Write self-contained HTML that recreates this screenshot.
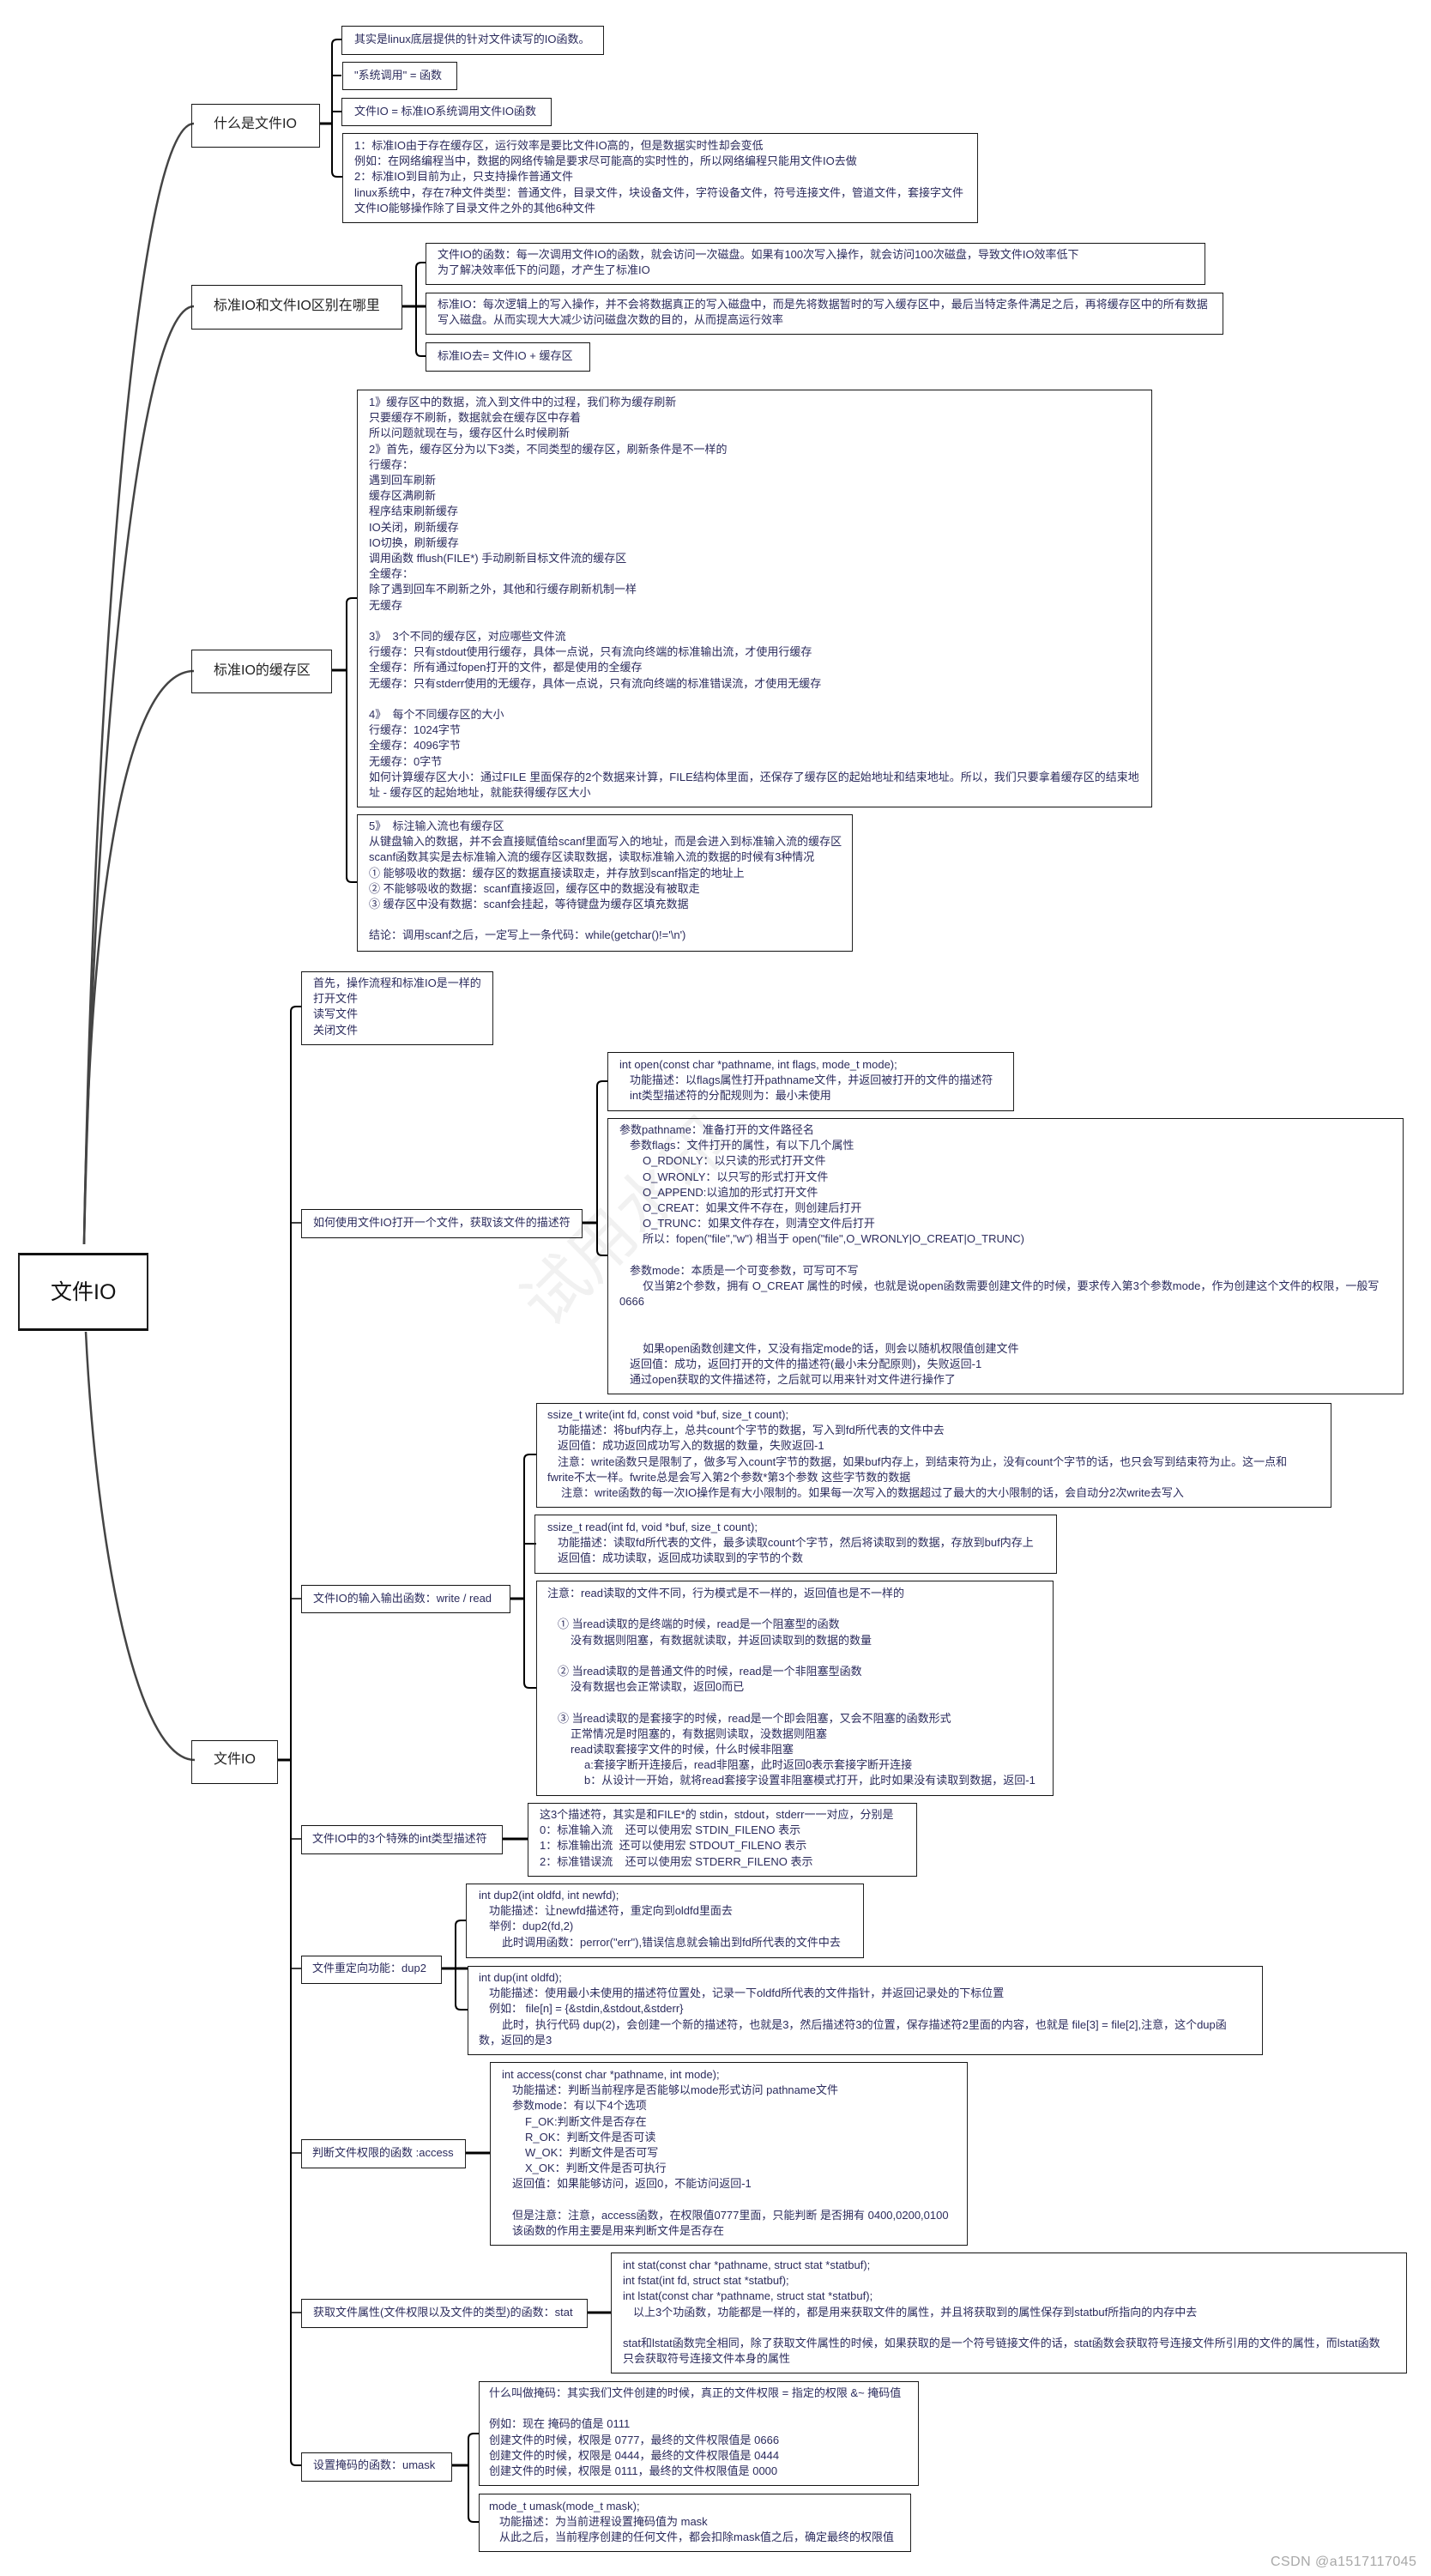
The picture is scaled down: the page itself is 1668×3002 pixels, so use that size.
<!DOCTYPE html>
<html lang="zh"><head><meta charset="utf-8"><title>文件IO</title>
<style>
html,body{margin:0;padding:0;background:#fff}
#p{position:relative;width:1668px;height:3002px;overflow:hidden;background:#fff;font-family:"Liberation Sans","Noto Sans CJK SC",sans-serif}
svg{position:absolute;left:0;top:0}
.b{position:absolute;box-sizing:border-box;border:1px solid #222;border-top:1.5px solid #111;border-bottom:1.5px solid #111}
.t{position:absolute;margin:0;font:13px/18.2px "Liberation Sans","Noto Sans CJK SC",sans-serif;color:#2b2b5c;white-space:pre}
.n{position:absolute;font-size:16px;line-height:22px;color:#222;white-space:pre}
.r{position:absolute;font-size:25px;line-height:34px;color:#111;white-space:pre}
i{display:inline-block}
.a{width:12px}.c{width:16px}.d{width:27px}.e{width:43px}
</style></head><body><div id="p">
<svg width="1668" height="3002" viewBox="0 0 1668 3002">
<text x="0" y="0" transform="translate(640 1550) rotate(-45)" font-family="'Liberation Sans','Noto Sans CJK SC',sans-serif" font-size="76" fill="#f1f1f1">试用水印</text>
<g fill="none" stroke="#444" stroke-width="2.5">
<path d="M98 1450C110 797 158 144 226 144"/>
<path d="M98 1450C110 903 158 357 226 357"/>
<path d="M98 1450C104 1020 150 782 226 782"/>
<path d="M100 1552C112 1800 158 2051 227 2051"/>
</g>
<g fill="none" stroke="#000" stroke-width="2">
<path d="M399 46H393Q387 46 387 52V200Q387 206 393 206H399"/>
<path d="M387 88H398M387 130H398"/>
<path d="M373 144H387" stroke-width="3"/>
<path d="M496 306H491Q485 306 485 312V409Q485 415 491 415H496"/>
<path d="M469 357H496" stroke-width="3"/>
<path d="M417 697H410Q404 697 404 703V1022Q404 1028 410 1028H417"/>
<path d="M387 781H404" stroke-width="3"/>
<path d="M352 1173H345Q339 1173 339 1179V2867Q339 2873 345 2873H352"/>
<path d="M339 1425H352M339 1863H352M339 2143H352M339 2294H352M339 2509H352M339 2695H352" stroke-width="1.5"/>
<path d="M324 2051H339" stroke-width="3"/>
<path d="M709 1260H702Q696 1260 696 1266V1457Q696 1463 702 1463H709"/>
<path d="M679 1425H696" stroke-width="3"/>
<path d="M625 1695H617Q611 1695 611 1701V1961Q611 1967 617 1967H625"/>
<path d="M611 1799H625"/>
<path d="M595 1863H611" stroke-width="3"/>
<path d="M586 2143H616" stroke-width="3"/>
<path d="M544 2238H537Q531 2238 531 2244V2336Q531 2342 537 2342H545"/>
<path d="M515 2294H545" stroke-width="3"/>
<path d="M543 2509H572" stroke-width="3"/>
<path d="M685 2695H712" stroke-width="3"/>
<path d="M558 2836H552Q546 2836 546 2842V2933Q546 2939 552 2939H558"/>
<path d="M527 2873H546" stroke-width="3"/>
</g>
</svg>

<div class="b" style="left:21px;top:1460px;width:152px;height:91px;border-width:3px 2px"></div>
<div class="r" style="left:59px;top:1489px">文件IO</div>

<div class="b" style="left:223px;top:121px;width:150px;height:51px"></div>
<div class="n" style="left:249px;top:134px">什么是文件IO</div>
<div class="b" style="left:223px;top:332px;width:246px;height:52px"></div>
<div class="n" style="left:249px;top:346px">标准IO和文件IO区别在哪里</div>
<div class="b" style="left:223px;top:757px;width:164px;height:51px"></div>
<div class="n" style="left:249px;top:771px">标准IO的缓存区</div>
<div class="b" style="left:223px;top:2028px;width:101px;height:51px"></div>
<div class="n" style="left:249px;top:2040px">文件IO</div>

<div class="b" style="left:398px;top:30px;width:306px;height:34px"></div>
<pre class="t" style="left:413px;top:37px">其实是linux底层提供的针对文件读写的IO函数。</pre>
<div class="b" style="left:399px;top:72px;width:134px;height:33px"></div>
<pre class="t" style="left:413px;top:79px">"系统调用" = 函数</pre>
<div class="b" style="left:398px;top:114px;width:245px;height:33px"></div>
<pre class="t" style="left:413px;top:121px">文件IO = 标准IO系统调用文件IO函数</pre>
<div class="b" style="left:399px;top:155px;width:741px;height:105px"></div>
<pre class="t" style="left:413px;top:161px">1&#65306;标准IO由于存在缓存区&#65292;运行效率是要比文件IO高的&#65292;但是数据实时性却会变低
例如&#65306;在网络编程当中&#65292;数据的网络传输是要求尽可能高的实时性的&#65292;所以网络编程只能用文件IO去做
2&#65306;标准IO到目前为止&#65292;只支持操作普通文件
linux系统中&#65292;存在7种文件类型&#65306;普通文件&#65292;目录文件&#65292;块设备文件&#65292;字符设备文件&#65292;符号连接文件&#65292;管道文件&#65292;套接字文件
文件IO能够操作除了目录文件之外的其他6种文件</pre>

<div class="b" style="left:496px;top:283px;width:909px;height:49px"></div>
<pre class="t" style="left:510px;top:288px">文件IO的函数&#65306;每一次调用文件IO的函数&#65292;就会访问一次磁盘。如果有100次写入操作&#65292;就会访问100次磁盘&#65292;导致文件IO效率低下
为了解决效率低下的问题&#65292;才产生了标准IO</pre>
<div class="b" style="left:496px;top:341px;width:930px;height:49px"></div>
<pre class="t" style="left:510px;top:346px">标准IO&#65306;每次逻辑上的写入操作&#65292;并不会将数据真正的写入磁盘中&#65292;而是先将数据暂时的写入缓存区中&#65292;最后当特定条件满足之后&#65292;再将缓存区中的所有数据
写入磁盘。从而实现大大减少访问磁盘次数的目的&#65292;从而提高运行效率</pre>
<div class="b" style="left:496px;top:399px;width:192px;height:34px"></div>
<pre class="t" style="left:510px;top:406px">标准IO去= 文件IO + 缓存区</pre>

<div class="b" style="left:416px;top:454px;width:927px;height:487px"></div>
<pre class="t" style="left:430px;top:460px">1》缓存区中的数据&#65292;流入到文件中的过程&#65292;我们称为缓存刷新
只要缓存不刷新&#65292;数据就会在缓存区中存着
所以问题就现在与&#65292;缓存区什么时候刷新
2》首先&#65292;缓存区分为以下3类&#65292;不同类型的缓存区&#65292;刷新条件是不一样的
行缓存&#65306;
遇到回车刷新
缓存区满刷新
程序结束刷新缓存
IO关闭&#65292;刷新缓存
IO切换&#65292;刷新缓存
调用函数 fflush(FILE*) 手动刷新目标文件流的缓存区
全缓存&#65306;
除了遇到回车不刷新之外&#65292;其他和行缓存刷新机制一样
无缓存

3》  3个不同的缓存区&#65292;对应哪些文件流
行缓存&#65306;只有stdout使用行缓存&#65292;具体一点说&#65292;只有流向终端的标准输出流&#65292;才使用行缓存
全缓存&#65306;所有通过fopen打开的文件&#65292;都是使用的全缓存
无缓存&#65306;只有stderr使用的无缓存&#65292;具体一点说&#65292;只有流向终端的标准错误流&#65292;才使用无缓存

4》  每个不同缓存区的大小
行缓存&#65306;1024字节
全缓存&#65306;4096字节
无缓存&#65306;0字节
如何计算缓存区大小&#65306;通过FILE 里面保存的2个数据来计算&#65292;FILE结构体里面&#65292;还保存了缓存区的起始地址和结束地址。所以&#65292;我们只要拿着缓存区的结束地
址 - 缓存区的起始地址&#65292;就能获得缓存区大小</pre>
<div class="b" style="left:416px;top:949px;width:578px;height:160px"></div>
<pre class="t" style="left:430px;top:954px">5》  标注输入流也有缓存区
从键盘输入的数据&#65292;并不会直接赋值给scanf里面写入的地址&#65292;而是会进入到标准输入流的缓存区
scanf函数其实是去标准输入流的缓存区读取数据&#65292;读取标准输入流的数据的时候有3种情况
① 能够吸收的数据&#65306;缓存区的数据直接读取走&#65292;并存放到scanf指定的地址上
② 不能够吸收的数据&#65306;scanf直接返回&#65292;缓存区中的数据没有被取走
③ 缓存区中没有数据&#65306;scanf会挂起&#65292;等待键盘为缓存区填充数据

结论&#65306;调用scanf之后&#65292;一定写上一条代码&#65306;while(getchar()!='\n')</pre>

<div class="b" style="left:351px;top:1132px;width:224px;height:86px"></div>
<pre class="t" style="left:365px;top:1137px">首先&#65292;操作流程和标准IO是一样的
打开文件
读写文件
关闭文件</pre>

<div class="b" style="left:351px;top:1409px;width:328px;height:34px"></div>
<pre class="t" style="left:365px;top:1416px">如何使用文件IO打开一个文件&#65292;获取该文件的描述符</pre>
<div class="b" style="left:708px;top:1226px;width:474px;height:69px"></div>
<pre class="t" style="left:722px;top:1232px">int open(const char *pathname, int flags, mode_t mode);
<i class="a"></i>功能描述&#65306;以flags属性打开pathname文件&#65292;并返回被打开的文件的描述符
<i class="a"></i>int类型描述符的分配规则为&#65306;最小未使用</pre>
<div class="b" style="left:708px;top:1303px;width:928px;height:322px"></div>
<pre class="t" style="left:722px;top:1308px">参数pathname&#65306;准备打开的文件路径名
<i class="a"></i>参数flags&#65306;文件打开的属性&#65292;有以下几个属性
<i class="d"></i>O_RDONLY&#65306;以只读的形式打开文件
<i class="d"></i>O_WRONLY&#65306;以只写的形式打开文件
<i class="d"></i>O_APPEND:以追加的形式打开文件
<i class="d"></i>O_CREAT&#65306;如果文件不存在&#65292;则创建后打开
<i class="d"></i>O_TRUNC&#65306;如果文件存在&#65292;则清空文件后打开
<i class="d"></i>所以&#65306;fopen("file","w") 相当于 open("file",O_WRONLY|O_CREAT|O_TRUNC)

<i class="a"></i>参数mode&#65306;本质是一个可变参数&#65292;可写可不写
<i class="d"></i>仅当第2个参数&#65292;拥有 O_CREAT 属性的时候&#65292;也就是说open函数需要创建文件的时候&#65292;要求传入第3个参数mode&#65292;作为创建这个文件的权限&#65292;一般写
0666


<i class="d"></i>如果open函数创建文件&#65292;又没有指定mode的话&#65292;则会以随机权限值创建文件
<i class="a"></i>返回值&#65306;成功&#65292;返回打开的文件的描述符(最小未分配原则)&#65292;失败返回-1
<i class="a"></i>通过open获取的文件描述符&#65292;之后就可以用来针对文件进行操作了</pre>

<div class="b" style="left:351px;top:1847px;width:244px;height:33px"></div>
<pre class="t" style="left:365px;top:1854px">文件IO的输入输出函数&#65306;write / read</pre>
<div class="b" style="left:625px;top:1635px;width:927px;height:122px"></div>
<pre class="t" style="left:638px;top:1640px">ssize_t write(int fd, const void *buf, size_t count);
<i class="a"></i>功能描述&#65306;将buf内存上&#65292;总共count个字节的数据&#65292;写入到fd所代表的文件中去
<i class="a"></i>返回值&#65306;成功返回成功写入的数据的数量&#65292;失败返回-1
<i class="a"></i>注意&#65306;write函数只是限制了&#65292;做多写入count字节的数据&#65292;如果buf内存上&#65292;到结束符为止&#65292;没有count个字节的话&#65292;也只会写到结束符为止。这一点和
fwrite不太一样。fwrite总是会写入第2个参数*第3个参数 这些字节数的数据
<i class="c"></i>注意&#65306;write函数的每一次IO操作是有大小限制的。如果每一次写入的数据超过了最大的大小限制的话&#65292;会自动分2次write去写入</pre>
<div class="b" style="left:623px;top:1765px;width:609px;height:69px"></div>
<pre class="t" style="left:638px;top:1771px">ssize_t read(int fd, void *buf, size_t count);
<i class="a"></i>功能描述&#65306;读取fd所代表的文件&#65292;最多读取count个字节&#65292;然后将读取到的数据&#65292;存放到buf内存上
<i class="a"></i>返回值&#65306;成功读取&#65292;返回成功读取到的字节的个数</pre>
<div class="b" style="left:625px;top:1842px;width:603px;height:251px"></div>
<pre class="t" style="left:638px;top:1848px">注意&#65306;read读取的文件不同&#65292;行为模式是不一样的&#65292;返回值也是不一样的

<i class="a"></i>① 当read读取的是终端的时候&#65292;read是一个阻塞型的函数
<i style="width:27px"></i>没有数据则阻塞&#65292;有数据就读取&#65292;并返回读取到的数据的数量

<i class="a"></i>② 当read读取的是普通文件的时候&#65292;read是一个非阻塞型函数
<i style="width:27px"></i>没有数据也会正常读取&#65292;返回0而已

<i class="a"></i>③ 当read读取的是套接字的时候&#65292;read是一个即会阻塞&#65292;又会不阻塞的函数形式
<i style="width:27px"></i>正常情况是时阻塞的&#65292;有数据则读取&#65292;没数据则阻塞
<i style="width:27px"></i>read读取套接字文件的时候&#65292;什么时候非阻塞
<i class="e"></i>a:套接字断开连接后&#65292;read非阻塞&#65292;此时返回0表示套接字断开连接
<i class="e"></i>b&#65306;从设计一开始&#65292;就将read套接字设置非阻塞模式打开&#65292;此时如果没有读取到数据&#65292;返回-1</pre>

<div class="b" style="left:351px;top:2127px;width:235px;height:34px"></div>
<pre class="t" style="left:364px;top:2134px">文件IO中的3个特殊的int类型描述符</pre>
<div class="b" style="left:615px;top:2101px;width:454px;height:86px"></div>
<pre class="t" style="left:629px;top:2106px">这3个描述符&#65292;其实是和FILE*的 stdin&#65292;stdout&#65292;stderr一一对应&#65292;分别是
0&#65306;标准输入流    还可以使用宏 STDIN_FILENO 表示
1&#65306;标准输出流  还可以使用宏 STDOUT_FILENO 表示
2&#65306;标准错误流    还可以使用宏 STDERR_FILENO 表示</pre>

<div class="b" style="left:351px;top:2279px;width:164px;height:33px"></div>
<pre class="t" style="left:364px;top:2285px">文件重定向功能&#65306;dup2</pre>
<div class="b" style="left:543px;top:2195px;width:464px;height:87px"></div>
<pre class="t" style="left:558px;top:2200px">int dup2(int oldfd, int newfd);
<i class="a"></i>功能描述&#65306;让newfd描述符&#65292;重定向到oldfd里面去
<i class="a"></i>举例&#65306;dup2(fd,2)
<i class="d"></i>此时调用函数&#65306;perror("err"),错误信息就会输出到fd所代表的文件中去</pre>
<div class="b" style="left:545px;top:2291px;width:927px;height:104px"></div>
<pre class="t" style="left:558px;top:2296px">int dup(int oldfd);
<i class="a"></i>功能描述&#65306;使用最小未使用的描述符位置处&#65292;记录一下oldfd所代表的文件指针&#65292;并返回记录处的下标位置
<i class="a"></i>例如&#65306; file[n] = {&amp;stdin,&amp;stdout,&amp;stderr}
<i class="d"></i>此时&#65292;执行代码 dup(2)&#65292;会创建一个新的描述符&#65292;也就是3&#65292;然后描述符3的位置&#65292;保存描述符2里面的内容&#65292;也就是 file[3] = file[2],注意&#65292;这个dup函
数&#65292;返回的是3</pre>

<div class="b" style="left:351px;top:2493px;width:192px;height:34px"></div>
<pre class="t" style="left:364px;top:2500px">判断文件权限的函数 :access</pre>
<div class="b" style="left:571px;top:2403px;width:557px;height:214px"></div>
<pre class="t" style="left:585px;top:2409px">int access(const char *pathname, int mode);
<i class="a"></i>功能描述&#65306;判断当前程序是否能够以mode形式访问 pathname文件
<i class="a"></i>参数mode&#65306;有以下4个选项
<i class="d"></i>F_OK:判断文件是否存在
<i class="d"></i>R_OK&#65306;判断文件是否可读
<i class="d"></i>W_OK&#65306;判断文件是否可写
<i class="d"></i>X_OK&#65306;判断文件是否可执行
<i class="a"></i>返回值&#65306;如果能够访问&#65292;返回0&#65292;不能访问返回-1

<i class="a"></i>但是注意&#65306;注意&#65292;access函数&#65292;在权限值0777里面&#65292;只能判断 是否拥有 0400,0200,0100
<i class="a"></i>该函数的作用主要是用来判断文件是否存在</pre>

<div class="b" style="left:351px;top:2679px;width:334px;height:34px"></div>
<pre class="t" style="left:365px;top:2686px">获取文件属性(文件权限以及文件的类型)的函数&#65306;stat</pre>
<div class="b" style="left:712px;top:2625px;width:928px;height:141px"></div>
<pre class="t" style="left:726px;top:2631px">int stat(const char *pathname, struct stat *statbuf);
int fstat(int fd, struct stat *statbuf);
int lstat(const char *pathname, struct stat *statbuf);
<i class="a"></i>以上3个功函数&#65292;功能都是一样的&#65292;都是用来获取文件的属性&#65292;并且将获取到的属性保存到statbuf所指向的内存中去

stat和lstat函数完全相同&#65292;除了获取文件属性的时候&#65292;如果获取的是一个符号链接文件的话&#65292;stat函数会获取符号连接文件所引用的文件的属性&#65292;而lstat函数
只会获取符号连接文件本身的属性</pre>

<div class="b" style="left:351px;top:2858px;width:176px;height:34px"></div>
<pre class="t" style="left:365px;top:2864px">设置掩码的函数&#65306;umask</pre>
<div class="b" style="left:558px;top:2775px;width:513px;height:122px"></div>
<pre class="t" style="left:570px;top:2780px">什么叫做掩码&#65306;其实我们文件创建的时候&#65292;真正的文件权限 = 指定的权限 &amp;~ 掩码值

例如&#65306;现在 掩码的值是 0111
创建文件的时候&#65292;权限是 0777&#65292;最终的文件权限值是 0666
创建文件的时候&#65292;权限是 0444&#65292;最终的文件权限值是 0444
创建文件的时候&#65292;权限是 0111&#65292;最终的文件权限值是 0000</pre>
<div class="b" style="left:558px;top:2906px;width:504px;height:68px"></div>
<pre class="t" style="left:570px;top:2912px">mode_t umask(mode_t mask);
<i class="a"></i>功能描述&#65306;为当前进程设置掩码值为 mask
<i class="a"></i>从此之后&#65292;当前程序创建的任何文件&#65292;都会扣除mask值之后&#65292;确定最终的权限值</pre>

<div style="position:absolute;left:1481px;top:2977px;font-size:16px;line-height:18px;color:#a8a8a8;letter-spacing:.45px;white-space:pre">CSDN @a1517117045</div>
</div></body></html>
